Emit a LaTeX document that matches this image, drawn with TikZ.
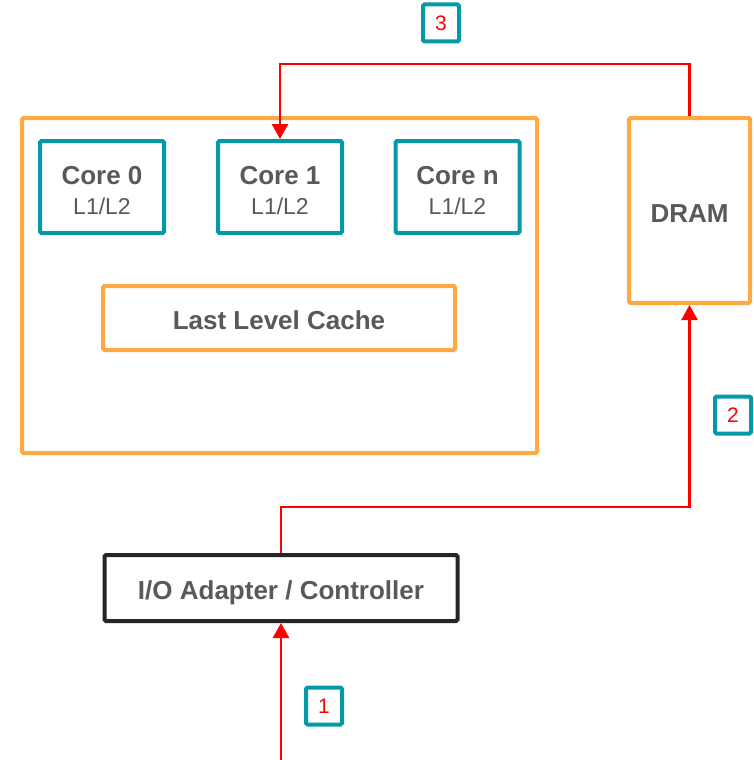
\documentclass[tikz,border=0pt]{standalone}
\usepackage{fontspec}
\setmainfont{Liberation Sans}
\usetikzlibrary{arrows.meta}
\definecolor{llcorange}{HTML}{FFA940}
\definecolor{coreteal}{HTML}{0499A8}
\definecolor{labelgray}{HTML}{595959}
\definecolor{flowred}{HTML}{FF0000}
\definecolor{iodark}{HTML}{262626}
\begin{document}
\begin{tikzpicture}[x=1pt,y=-1pt,
  box/.style={draw, line width=4pt, rounded corners=1.5pt, inner sep=0pt,
    outer sep=2pt, fill=white, text=labelgray,
    font=\fontsize{26}{28}\selectfont\bfseries},
  orangebox/.style={box, draw=llcorange},
  onelabel/.style={text height=23.5pt, text depth=0pt},
  corebox/.style={box, draw=coreteal, minimum width=124pt,
    minimum height=92pt, align=center},
  stepbadge/.style={box, draw=coreteal, minimum width=36pt,
    minimum height=37pt, text=flowred,
    font=\fontsize{21}{21}\selectfont},
  flow/.style={draw=flowred, line width=2.5pt},
  flowarrow/.style={flow, -{Triangle[width=16pt,length=15pt]}}
]
\useasboundingbox (0,0) rectangle (753,760);

% processor package
\node[orangebox, minimum width=515pt, minimum height=335pt] (cpu) at (279.5,285.5) {};

% cores with private caches
\newcommand{\corelabel}[1]{\rule{0pt}{25pt}#1\\[2pt]{\fontsize{23}{28}\selectfont\mdseries L1/L2}}
\node[corebox] (core0) at (102,187) {\corelabel{Core 0}};
\node[corebox] (core1) at (280,187) {\corelabel{Core 1}};
\node[corebox] (coren) at (457.5,187) {\corelabel{Core n}};

% shared cache
\node[orangebox, onelabel, minimum width=352pt, minimum height=64pt] (llc) at (279,318)
  {Last Level Cache};

% main memory
\node[orangebox, onelabel, minimum width=121pt, minimum height=185pt] (dram) at (689.5,210.5)
  {DRAM};

% I/O device
\node[box, onelabel, draw=iodark, minimum width=353pt, minimum height=66pt] (io) at (281,588)
  {I/O Adapter / Controller};

% step badges
\node[stepbadge] (s3) at (441,23) {3};
\node[stepbadge] (s2) at (733,415) {2};
\node[stepbadge] (s1) at (324,706) {1};

% data flow
\coordinate (src) at (281,760);
\draw[flowarrow] (src) -- (io.south);
\draw[flowarrow] (io.north) -- ++(0,-46) -| (dram.south);
\draw[flowarrow] (dram.north) -- ++(0,-52) -| (core1.north);
\end{tikzpicture}
\end{document}
